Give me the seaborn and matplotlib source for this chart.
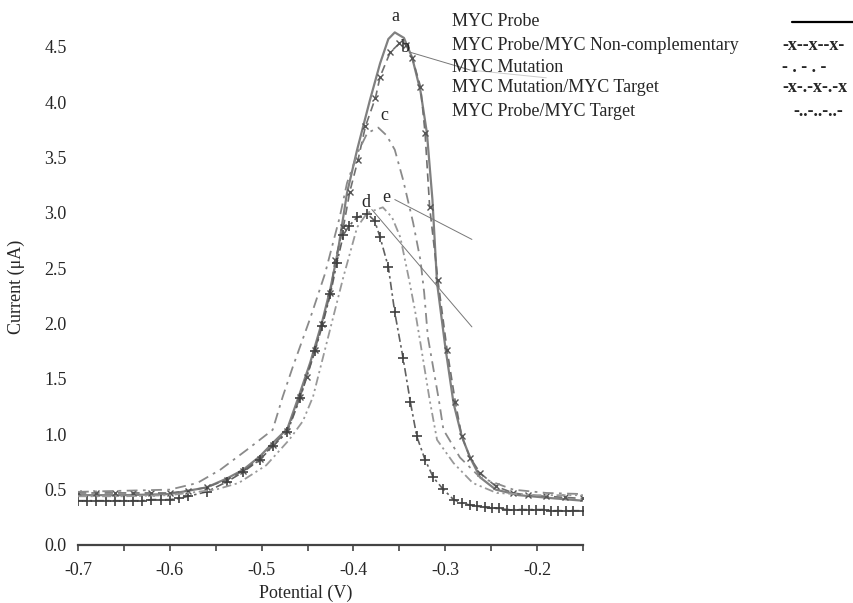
# ============================================
# DIFFERENTIAL PULSE VOLTAMMOGRAMS - MYC PROBE
# ============================================

import pandas as pd
import seaborn as sns
import matplotlib.pyplot as plt
from matplotlib.lines import Line2D
from matplotlib.ticker import MultipleLocator

# ============================================
# DATA
# ============================================

# a - MYC Probe
pot_a = [-0.70, -0.65, -0.60, -0.56, -0.538, -0.52, -0.502, -0.488, -0.472, -0.458,
         -0.447, -0.434, -0.425, -0.417, -0.407, -0.396, -0.382, -0.371, -0.362, -0.355,
         -0.345, -0.336, -0.327, -0.320, -0.314, -0.309, -0.300, -0.291, -0.282, -0.273,
         -0.262, -0.245, -0.22, -0.18, -0.15]
cur_a = [0.45, 0.45, 0.46, 0.52, 0.60, 0.68, 0.80, 0.92, 1.05, 1.38,
         1.65, 2.02, 2.32, 2.65, 3.18, 3.57, 4.02, 4.35, 4.57, 4.63,
         4.58, 4.40, 4.10, 3.72, 3.12, 2.37, 1.79, 1.28, 0.98, 0.79,
         0.61, 0.50, 0.45, 0.42, 0.40]

# b - MYC Probe/MYC Non-complementary
pot_b = [-0.70, -0.68, -0.66, -0.64, -0.62, -0.60, -0.58, -0.56, -0.538, -0.52,
         -0.502, -0.488, -0.472, -0.458, -0.451, -0.442, -0.434, -0.425, -0.420, -0.411,
         -0.404, -0.395, -0.387, -0.376, -0.371, -0.360, -0.350, -0.343, -0.336, -0.327,
         -0.322, -0.317, -0.308, -0.298, -0.289, -0.282, -0.273, -0.262, -0.245, -0.226,
         -0.21, -0.19, -0.17, -0.15]
cur_b = [0.47, 0.47, 0.47, 0.47, 0.47, 0.47, 0.49, 0.52, 0.59, 0.67,
         0.78, 0.90, 1.03, 1.34, 1.52, 1.76, 2.00, 2.28, 2.57, 2.87,
         3.19, 3.48, 3.78, 4.04, 4.23, 4.45, 4.53, 4.52, 4.40, 4.14,
         3.72, 3.05, 2.39, 1.76, 1.29, 0.98, 0.79, 0.65, 0.53, 0.47,
         0.45, 0.44, 0.43, 0.42]

# c - MYC Mutation
pot_c = [-0.70, -0.65, -0.60, -0.57, -0.545, -0.516, -0.488, -0.477, -0.466, -0.447,
         -0.431, -0.415, -0.407, -0.395, -0.385, -0.373, -0.364, -0.355, -0.346, -0.335,
         -0.327, -0.323, -0.319, -0.307, -0.302, -0.284, -0.262, -0.226, -0.19, -0.15]
cur_c = [0.48, 0.49, 0.50, 0.56, 0.68, 0.86, 1.04, 1.34, 1.61, 2.05,
         2.45, 2.96, 3.27, 3.55, 3.72, 3.77, 3.70, 3.57, 3.30, 2.91,
         2.57, 2.28, 1.88, 1.31, 1.04, 0.79, 0.61, 0.50, 0.47, 0.46]

# d - MYC Mutation/MYC Target
pot_d = [-0.70, -0.69, -0.68, -0.67, -0.66, -0.65, -0.64, -0.63, -0.62, -0.61,
         -0.60, -0.59, -0.58, -0.56, -0.538, -0.52,
         -0.502, -0.488, -0.472, -0.458, -0.442, -0.434, -0.425, -0.418, -0.411, -0.405,
         -0.396, -0.385, -0.377, -0.371, -0.362, -0.355, -0.346, -0.338, -0.331, -0.322,
         -0.313, -0.303, -0.291, -0.282, -0.273, -0.265, -0.257, -0.249, -0.241, -0.233,
         -0.225, -0.217, -0.209, -0.201, -0.193, -0.185, -0.177, -0.169, -0.161, -0.15]
cur_d = [0.40, 0.40, 0.40, 0.40, 0.40, 0.40, 0.40, 0.40, 0.41, 0.41,
         0.41, 0.42, 0.44, 0.48, 0.57, 0.66,
         0.77, 0.89, 1.02, 1.33, 1.75, 1.98, 2.27, 2.55, 2.80, 2.88,
         2.96, 2.99, 2.93, 2.78, 2.51, 2.10, 1.69, 1.29, 0.98, 0.77,
         0.61, 0.51, 0.41, 0.38, 0.36, 0.35, 0.34, 0.33, 0.33, 0.32,
         0.32, 0.32, 0.32, 0.32, 0.32, 0.31, 0.31, 0.31, 0.31, 0.31]

# e - MYC Probe/MYC Target
pot_e = [-0.70, -0.65, -0.60, -0.55, -0.525, -0.495, -0.470, -0.455, -0.444, -0.433,
         -0.422, -0.411, -0.396, -0.385, -0.368, -0.358, -0.349, -0.340, -0.333, -0.327,
         -0.317, -0.309, -0.291, -0.270, -0.244, -0.20, -0.15]
cur_e = [0.44, 0.44, 0.45, 0.50, 0.56, 0.72, 0.95, 1.12, 1.34, 1.70,
         2.06, 2.42, 2.87, 3.00, 3.05, 2.96, 2.78, 2.42, 2.12, 1.82,
         1.31, 0.95, 0.74, 0.56, 0.47, 0.45, 0.45]

legend_labels = ["MYC Probe", "MYC Probe/MYC Non-complementary", "MYC Mutation",
                 "MYC Mutation/MYC Target", "MYC Probe/MYC Target"]
legend_samples = [None, "-x--x--x-", "- . - . -", "-x-.-x-.-x", "-..-..-..-"]

# ============================================
# STYLE
# ============================================

sns.set_style("white")
plt.rcParams['font.family'] = ['Liberation Serif', 'DejaVu Serif']
plt.rcParams['axes.unicode_minus'] = False

fig = plt.figure(figsize=(8.54, 6.03), dpi=100)
ax = fig.add_axes([0.0913, 0.0962, 0.5914, 0.8813])

# ============================================
# CURVES
# ============================================

sns.lineplot(x=pot_a, y=cur_a, ax=ax, color='#808080', linewidth=1.6,
             linestyle='-', estimator=None)
sns.lineplot(x=pot_b, y=cur_b, ax=ax, color='#707070', linewidth=1.2,
             linestyle=(0, (5, 3)), marker='x', markersize=5,
             markeredgecolor='#555555', markeredgewidth=1.0, estimator=None)
sns.lineplot(x=pot_c, y=cur_c, ax=ax, color='#8a8a8a', linewidth=1.3,
             linestyle=(0, (6, 3, 1.5, 3)), estimator=None)
sns.lineplot(x=pot_d, y=cur_d, ax=ax, color='#606060', linewidth=1.2,
             linestyle=(0, (5, 2, 1.5, 2)), marker='+', markersize=7,
             markeredgecolor='#404040', markeredgewidth=1.2, estimator=None)
sns.lineplot(x=pot_e, y=cur_e, ax=ax, color='#999999', linewidth=1.3,
             linestyle=(0, (5, 2, 1.2, 2, 1.2, 2)), estimator=None)

# ============================================
# PEAK LABELS + LEADER LINES
# ============================================

lab_kw = dict(fontsize=13, ha='center', va='center', clip_on=False)
ax.text(-0.354, 4.77, "a", **lab_kw)
ax.text(-0.343, 4.49, "b", **lab_kw)
ax.text(-0.366, 3.88, "c", **lab_kw)
ax.text(-0.386, 3.09, "d", **lab_kw)
ax.text(-0.364, 3.14, "e", **lab_kw)

ax.plot([-0.338, -0.273], [4.45, 4.29], color='#777777', lw=0.7, clip_on=False)
ax.plot([-0.273, -0.190], [4.29, 4.22], color='#cccccc', lw=0.7, clip_on=False)
ax.plot([-0.355, -0.271], [3.12, 2.76], color='#777777', lw=0.7)
ax.plot([-0.380, -0.271], [3.03, 1.97], color='#777777', lw=0.7)

# ============================================
# AXES
# ============================================

ax.set_xlim(-0.7, -0.15)
ax.set_ylim(0, 4.8)
ax.xaxis.set_minor_locator(MultipleLocator(0.05))
ax.set_yticks([0.0, 0.5, 1.0, 1.5, 2.0, 2.5, 3.0, 3.5, 4.0, 4.5])
ax.set_xticks([-0.7, -0.6, -0.5, -0.4, -0.3, -0.2])
ax.set_xticklabels(["-0.7", "-0.6", "-0.5", "-0.4", "-0.3", "-0.2"])
ax.set_yticklabels(["0.0", "0.5", "1.0", "1.5", "2.0", "2.5", "3.0", "3.5", "4.0", "4.5"])

ax.tick_params(axis='x', which='both', direction='out', bottom=True,
               length=4, width=1.2, color='#444444', labelsize=13, pad=8)
ax.tick_params(axis='y', which='both', left=False, length=0, labelsize=13, pad=8)

for side in ['top', 'right', 'left']:
    ax.spines[side].set_visible(False)
ax.spines['bottom'].set_color('#444444')
ax.spines['bottom'].set_linewidth(1.6)

ax.set_xlabel("Potential (V)", fontsize=13)
ax.set_ylabel("Current (μA)", fontsize=13)
ax.xaxis.set_label_coords(0.451, -0.075)
ax.yaxis.set_label_coords(-0.104, 0.486)

# ============================================
# TEXT LEGEND (top right, outside the axes)
# ============================================

leg_y = [22, 46, 67, 88, 112]
for lab, sample, ypx in zip(legend_labels, legend_samples, leg_y):
    yf = 1 - ypx / 603
    fig.text(452 / 854, yf, lab, fontsize=13, ha='left', va='center')
    if sample is None:
        fig.add_artist(Line2D([792 / 854, 1.0], [yf, yf], color='black', lw=1.6))
    else:
        x0 = 793 / 854 if sample.startswith("-..") else 782 / 854
        fig.text(x0, yf, sample, fontsize=13, fontweight='bold', ha='left', va='center')

fig.savefig("out.png", dpi=100)
